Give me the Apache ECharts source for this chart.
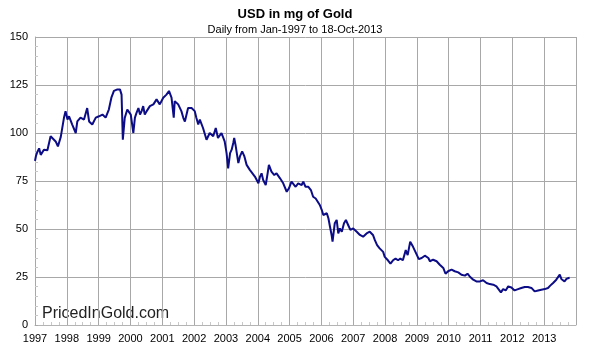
<!DOCTYPE html>
<html>
<head>
<meta charset="utf-8">
<script src="https://cdn.jsdelivr.net/npm/echarts@6/dist/echarts.min.js"></script>
<style>
  html, body { margin: 0; padding: 0; background: #fff; }
  #chart { width: 590px; height: 353px; }
</style>
</head>
<body>
<div id="chart"></div>
<script>
// position of each reading, in fractional years
var yearPos = [
  1997.00, 1997.03, 1997.07, 1997.13, 1997.18, 1997.28, 1997.39, 1997.49, 1997.54, 1997.65,
  1997.72, 1997.81, 1997.91, 1997.96, 1998.02, 1998.07, 1998.17, 1998.28, 1998.33, 1998.43,
  1998.54, 1998.64, 1998.70, 1998.80, 1998.91, 1999.01, 1999.12, 1999.22, 1999.32, 1999.40,
  1999.48, 1999.59, 1999.67, 1999.72, 1999.76, 1999.82, 1999.90, 2000.01, 2000.04, 2000.09,
  2000.14, 2000.19, 2000.25, 2000.30, 2000.35, 2000.40, 2000.45, 2000.51, 2000.61, 2000.72,
  2000.82, 2000.92, 2001.03, 2001.13, 2001.21, 2001.29, 2001.36, 2001.39, 2001.50, 2001.60,
  2001.66, 2001.71, 2001.81, 2001.92, 2002.02, 2002.07, 2002.13, 2002.18, 2002.28, 2002.39,
  2002.49, 2002.60, 2002.68, 2002.75, 2002.86, 2002.96, 2003.02, 2003.07, 2003.13, 2003.18,
  2003.23, 2003.26, 2003.30, 2003.39, 2003.44, 2003.51, 2003.58, 2003.65, 2003.70, 2003.75,
  2003.81, 2003.91, 2004.02, 2004.07, 2004.12, 2004.17, 2004.25, 2004.31, 2004.35, 2004.43,
  2004.52, 2004.59, 2004.70, 2004.80, 2004.91, 2004.98, 2005.06, 2005.12, 2005.19, 2005.27,
  2005.38, 2005.43, 2005.50, 2005.59, 2005.67, 2005.74, 2005.82, 2005.88, 2005.95, 2006.01,
  2006.06, 2006.11, 2006.17, 2006.22, 2006.27, 2006.32, 2006.35, 2006.42, 2006.48, 2006.53,
  2006.58, 2006.64, 2006.71, 2006.77, 2006.84, 2006.91, 2007.00, 2007.11, 2007.21, 2007.31,
  2007.42, 2007.52, 2007.62, 2007.68, 2007.75, 2007.83, 2007.94, 2007.99, 2008.04, 2008.09,
  2008.17, 2008.25, 2008.33, 2008.41, 2008.48, 2008.56, 2008.65, 2008.71, 2008.79, 2008.88,
  2008.98, 2009.06, 2009.15, 2009.25, 2009.36, 2009.41, 2009.51, 2009.62, 2009.72, 2009.83,
  2009.90, 2009.98, 2010.09, 2010.19, 2010.30, 2010.40, 2010.51, 2010.59, 2010.66, 2010.77,
  2010.87, 2010.98, 2011.08, 2011.19, 2011.29, 2011.40, 2011.50, 2011.55, 2011.64, 2011.71,
  2011.79, 2011.87, 2011.97, 2012.07, 2012.18, 2012.28, 2012.39, 2012.49, 2012.60, 2012.70,
  2012.81, 2012.91, 2013.02, 2013.12, 2013.19, 2013.28, 2013.33, 2013.38, 2013.43, 2013.49,
  2013.54, 2013.59, 2013.64, 2013.70, 2013.77, 2013.80
];
// USD expressed in milligrams of gold
var usdMg = [
  85.5, 88, 90, 92, 88.6, 91.3, 91, 98.3, 97.4, 95.6,
  93, 98, 107.9, 111.4, 107, 108.7, 104.4, 100, 106, 108,
  107, 113, 106, 104.4, 108, 108.7, 109.6, 108, 112.2, 118.4,
  121.9, 122.7, 122.7, 120, 96.5, 107.9, 112.2, 109.6, 108.7, 100,
  108, 110.5, 113, 109.6, 111.4, 114, 109.6, 111.4, 114, 114.9,
  117.5, 114.9, 118.4, 120, 121.9, 118.4, 108, 116.6, 114.9, 111.4,
  107.9, 106, 113, 113, 111.4, 107.9, 104.4, 107, 102.6, 96.5,
  100, 98.3, 102.6, 97.4, 100, 95.6, 89.5, 81.6, 89.5, 91.3,
  94.8, 97.4, 93.9, 84.3, 87.8, 90.4, 87.8, 83.4, 82.5, 80.8,
  81.6, 77.3, 73.8, 77.3, 79, 75.5, 72.9, 79, 83.4, 79.9,
  78.1, 79, 76.4, 73.8, 69.4, 71.2, 74.7, 73.8, 72, 73.8,
  72.9, 74.7, 72, 72, 70.3, 66.8, 65.9, 66.8, 62.5, 60,
  57.3, 56.5, 58.2, 55.6, 51.2, 46.9, 43.4, 53, 54.7, 47.7,
  50.3, 48.6, 53, 54.7, 52.1, 49.5, 50.3, 48.6, 46.9, 46,
  47.7, 48.6, 46.9, 44.2, 41.6, 39.9, 38.1, 35.5, 34.6, 33.7,
  32, 33.7, 34.6, 33.7, 34.6, 33.7, 39, 36.4, 43.4, 40.7,
  37.2, 34.3, 34.9, 36.1, 34.9, 33.2, 34, 33.2, 31.4, 29.7,
  26.7, 28, 28.8, 28, 27.4, 26.2, 25.7, 26.7, 25.3, 23.6,
  22.7, 22.7, 23.3, 21.9, 21.3, 21, 20.1, 19.3, 17, 18.7,
  18, 20.1, 19.5, 18, 18.7, 19.3, 19.8, 19.8, 19.3, 17.5,
  18, 18.4, 18.7, 19.3, 20.5, 21.9, 22.7, 23.6, 24, 26.2,
  24, 24.5, 22.7, 24, 24.5, 24.6
];
var yearTicks = { min: 1997, max: 2014, step: 1 };
var mgTicks = { min: 0, max: 150, step: 25 };

var chart = echarts.init(document.getElementById('chart'));
var pts = [];
for (var i = 0; i < yearPos.length; i++) {
  pts.push([yearPos[i], usdMg[i]]);
}

chart.setOption({
  animation: false,
  textStyle: { fontFamily: 'Liberation Sans, Arial, sans-serif' },
  title: {
    text: 'USD in mg of Gold',
    subtext: 'Daily from Jan-1997 to 18-Oct-2013',
    left: 'center',
    top: 3,
    itemGap: 3,
    textStyle: { fontSize: 13, fontWeight: 'bold', color: '#000' },
    subtextStyle: { fontSize: 11, color: '#000' }
  },
  grid: { left: 35, right: 14, top: 37, bottom: 28 },
  xAxis: {
    type: 'value',
    min: yearTicks.min,
    max: yearTicks.max,
    interval: yearTicks.step,
    axisLine: { lineStyle: { color: '#b4b4b4', width: 1 } },
    // ticks sit inside the plot, like the original
    axisTick: { show: true, inside: true, length: 3, lineStyle: { color: '#a8a8a8' } },
    minorTick: { show: true, splitNumber: 4, length: 3, lineStyle: { color: '#c8c8c8' } },
    axisLabel: {
      color: '#000', fontSize: 11, margin: 8,
      formatter: function (v) { return v >= yearTicks.max ? '' : String(v); }
    },
    splitLine: { show: true, lineStyle: { color: '#a8a8a8', width: 1 } }
  },
  yAxis: {
    type: 'value',
    min: mgTicks.min,
    max: mgTicks.max,
    interval: mgTicks.step,
    axisLine: { show: true, lineStyle: { color: '#a8a8a8', width: 1 } },
    axisTick: { show: true, inside: true, length: 3, lineStyle: { color: '#a8a8a8' } },
    minorTick: { show: true, splitNumber: 5, length: 3, lineStyle: { color: '#c8c8c8' } },
    axisLabel: { color: '#000', fontSize: 11, margin: 7 },
    splitLine: { show: true, lineStyle: { color: '#a8a8a8', width: 1 } }
  },
  graphic: [{
    type: 'text',
    left: 42,
    top: 306,
    style: {
      text: 'PricedInGold.com',
      font: '16px "Liberation Sans", Arial, sans-serif',
      fill: '#222'
    }
  }],
  series: [{
    type: 'line',
    data: pts,
    symbol: 'none',
    lineStyle: { color: '#0c0c86', width: 2 }
  }]
});
</script>
</body>
</html>
